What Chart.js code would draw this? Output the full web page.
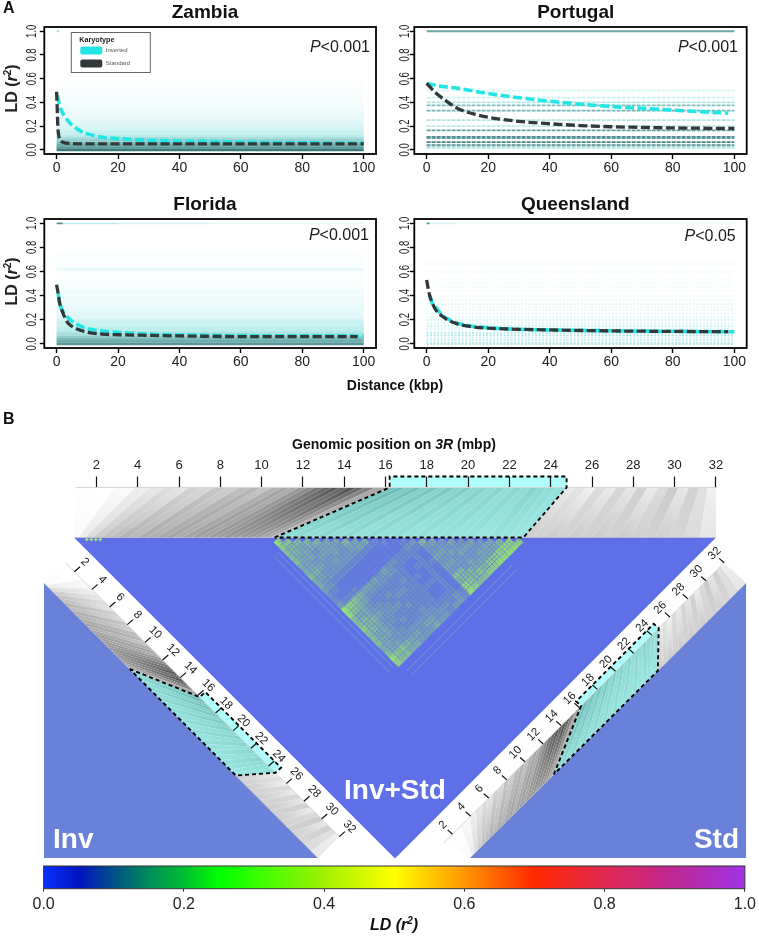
<!DOCTYPE html>
<html>
<head>
<meta charset="utf-8">
<title>LD decay and LD heatmaps on 3R</title>
<script src="https://cdn.jsdelivr.net/npm/chart.js@4/dist/chart.umd.min.js"></script>
<style>
    html, body { margin: 0; padding: 0; background: #fff; }
    #page { position: relative; width: 759px; height: 936px; overflow: hidden; font-family: "Liberation Sans", Arial, sans-serif; }
    canvas { position: absolute; }
    .tag { position: absolute; font-weight: bold; color: #111; white-space: nowrap; }
</style>
</head>
<body>
<div id="page">
    <canvas id="zambiaChart" width="410" height="185" style="left:0;top:0"></canvas>
    <canvas id="portugalChart" width="361" height="185" style="left:395px;top:0"></canvas>
    <canvas id="floridaChart" width="410" height="187" style="left:0;top:192px"></canvas>
    <canvas id="queenslandChart" width="361" height="187" style="left:395px;top:192px"></canvas>
    <canvas id="genomeChart" width="759" height="460" style="left:0;top:400px"></canvas>
    <canvas id="colorbarChart" width="759" height="86" style="left:0;top:850px"></canvas>
    <div class="tag" style="left:3px;top:-1px;font-size:16px">A</div>
    <div class="tag" style="left:3px;top:410px;font-size:16px">B</div>
    <div class="tag" style="left:395px;top:377px;font-size:14px;transform:translateX(-50%)">Distance (kbp)</div>
</div>

<script>
// ============================================
// PANEL A: LD decay per population
// ============================================

const distanceTicks = [0, 20, 40, 60, 80, 100];
const ldTicks = [0, 0.2, 0.4, 0.6, 0.8, 1];
const karyotypes = ['Inverted', 'Standard'];

const zambiaInvX = [0.3, 1, 3, 5, 8, 10, 15, 20, 30, 40, 60, 80, 100];
const zambiaInvY = [0.46, 0.37, 0.27, 0.21, 0.156, 0.135, 0.105, 0.095, 0.08, 0.075, 0.065, 0.06, 0.055];
const zambiaStdX = [0, 0.2, 0.4, 0.7, 1, 2, 4, 10, 40, 100];
const zambiaStdY = [0.49, 0.35, 0.2, 0.12, 0.09, 0.065, 0.055, 0.05, 0.05, 0.05];
const zambiaLevels = [0, 0.02, 0.04, 0.06, 0.08, 0.1, 0.12, 0.14, 0.16, 0.18, 0.2, 0.22, 0.24, 0.26, 0.28, 0.3, 0.32, 0.34, 0.36, 0.38, 0.4, 0.42, 0.44, 0.46, 0.48, 0.5, 0.52, 0.54, 0.56, 0.58, 0.6];
const zambiaDensity = [0.9, 0.72, 0.6, 0.5, 0.4, 0.3, 0.22, 0.18, 0.15, 0.13, 0.115, 0.1, 0.09, 0.08, 0.072, 0.064, 0.056, 0.05, 0.044, 0.038, 0.034, 0.03, 0.026, 0.022, 0.019, 0.016, 0.013, 0.01, 0.008, 0.006, 0.004];
const zambiaTopFrom = [0];
const zambiaTopTo = [0.8];
const zambiaTopDensity = [0.3];

const portugalInvX = [0, 5, 10, 20, 30, 40, 50, 60, 70, 80, 90, 98];
const portugalInvY = [0.56, 0.535, 0.52, 0.475, 0.44, 0.41, 0.385, 0.365, 0.35, 0.335, 0.32, 0.31];
const portugalStdX = [0, 3, 6, 10, 15, 20, 30, 40, 50, 60, 70, 80, 100];
const portugalStdY = [0.56, 0.48, 0.42, 0.35, 0.305, 0.275, 0.24, 0.22, 0.205, 0.195, 0.19, 0.185, 0.18];
const portugalLevels = [0.5, 0.44, 0.4, 0.375, 0.33, 0.25, 0.2, 0.165, 0.11, 0.1, 0.065, 0.04, 0.03, 0.015];
const portugalDensity = [0.12, 0.16, 0.26, 0.48, 0.55, 0.26, 0.22, 0.68, 0.8, 0.7, 0.85, 0.8, 0.36, 0.22];
const portugalTopFrom = [0];
const portugalTopTo = [100];
const portugalTopDensity = [0.62];

const floridaInvX = [0.5, 1, 2, 4, 6, 8, 10, 15, 20, 30, 40, 60, 100];
const floridaInvY = [0.42, 0.34, 0.27, 0.21, 0.17, 0.145, 0.125, 0.105, 0.095, 0.08, 0.075, 0.068, 0.065];
const floridaStdX = [0, 0.5, 1, 2, 3, 4, 6, 8, 10, 15, 20, 30, 40, 60, 98];
const floridaStdY = [0.49, 0.42, 0.34, 0.26, 0.2, 0.165, 0.13, 0.11, 0.095, 0.08, 0.075, 0.07, 0.065, 0.06, 0.06];
const floridaLevels = [0, 0.02, 0.04, 0.06, 0.08, 0.1, 0.12, 0.14, 0.16, 0.18, 0.2, 0.22, 0.24, 0.26, 0.28, 0.3, 0.32, 0.34, 0.36, 0.38, 0.4, 0.42, 0.44, 0.46, 0.48, 0.5, 0.52, 0.54, 0.56, 0.58, 0.6, 0.62, 0.64, 0.66, 0.68, 0.7, 0.72, 0.74, 0.76, 0.78];
const floridaDensity = [0.72, 0.6, 0.52, 0.4, 0.3, 0.25, 0.21, 0.19, 0.17, 0.17, 0.14, 0.09, 0.09, 0.085, 0.085, 0.075, 0.07, 0.06, 0.055, 0.05, 0.045, 0.045, 0.06, 0.035, 0.022, 0.018, 0.018, 0.015, 0.015, 0.015, 0.018, 0.07, 0.015, 0.012, 0.012, 0.015, 0.022, 0.012, 0.008, 0.004];
const floridaTopFrom = [0, 2, 20, 50];
const floridaTopTo = [2, 20, 50, 100];
const floridaTopDensity = [0.75, 0.2, 0.12, 0.07];

const queenslandInvX = [1, 2, 3, 5, 7, 10, 15, 20, 30, 40, 60, 100];
const queenslandInvY = [0.4, 0.33, 0.3, 0.24, 0.205, 0.17, 0.145, 0.133, 0.12, 0.115, 0.108, 0.1];
const queenslandStdX = [0, 0.5, 1, 2, 3, 5, 7, 10, 15, 20, 30, 40, 60, 98];
const queenslandStdY = [0.53, 0.46, 0.4, 0.33, 0.28, 0.23, 0.195, 0.165, 0.14, 0.13, 0.12, 0.115, 0.107, 0.1];
const queenslandLevels = [0, 0.01, 0.03, 0.05, 0.07, 0.09, 0.11, 0.13, 0.15, 0.17, 0.2, 0.22, 0.25, 0.28, 0.31, 0.33, 0.36, 0.4, 0.44, 0.47, 0.5, 0.54, 0.58, 0.6, 0.66, 0.68];
const queenslandDensity = [0.3, 0.2, 0.2, 0.13, 0.26, 0.2, 0.1, 0.1, 0.15, 0.1, 0.12, 0.07, 0.07, 0.06, 0.05, 0.08, 0.05, 0.04, 0.03, 0.04, 0.03, 0.03, 0.02, 0.05, 0.03, 0.03];
const queenslandTopFrom = [0, 1, 10];
const queenslandTopTo = [1, 10, 100];
const queenslandTopDensity = [0.7, 0.12, 0.05];

// ============================================
// PANEL B: genomic tracks and heatmap
// ============================================

const genomeTicks = [2, 4, 6, 8, 10, 12, 14, 16, 18, 20, 22, 24, 26, 28, 30, 32];
const inversionStart = 16.2;
const inversionEnd = 24.77;

// band edges that link a position on 3R (mbp) to a rank along the heatmap side (0-1)
const linkMbp = [1.0, 2.9, 3.9, 4.6, 5.3, 5.9, 6.5, 7.1, 7.7, 8.3, 8.9, 9.5, 10.0, 10.5, 11.0, 11.4, 11.8, 12.2, 12.6, 13.0, 13.4, 13.8, 14.2, 14.6, 15.0, 15.5, 16.2,
    16.6, 17.0, 17.4, 17.8, 18.2, 18.6, 19.0, 19.4, 19.8, 20.2, 20.6, 21.0, 21.4, 21.8, 22.2, 22.6, 23.0, 23.4, 23.8, 24.3, 24.77,
    25.2, 25.7, 26.2, 26.7, 27.2, 27.7, 28.2, 28.7, 29.2, 29.7, 30.2, 30.7, 31.2, 31.6, 32.0];
const linkRank = [0.000, 0.008, 0.018, 0.030, 0.043, 0.056, 0.070, 0.085, 0.100, 0.113, 0.128, 0.143, 0.155, 0.168, 0.182, 0.195, 0.207, 0.219, 0.231, 0.243, 0.255, 0.267, 0.278, 0.289, 0.298, 0.306, 0.3126,
    0.332, 0.351, 0.371, 0.390, 0.410, 0.429, 0.449, 0.468, 0.488, 0.507, 0.527, 0.546, 0.566, 0.585, 0.605, 0.624, 0.644, 0.663, 0.678, 0.690, 0.700,
    0.716, 0.734, 0.752, 0.771, 0.789, 0.808, 0.827, 0.846, 0.866, 0.886, 0.905, 0.926, 0.950, 0.975, 1.0];
// darkness of each band at the 3R side and at the heatmap side
const linkDarkTop = [0.0, 0.02, 0.06, 0.09, 0.13, 0.10, 0.17, 0.15, 0.22, 0.19, 0.25, 0.28, 0.23, 0.30, 0.35, 0.32, 0.40, 0.46, 0.54, 0.60, 0.66, 0.60, 0.68, 0.60, 0.50, 0.34,
    0.45, 0.55, 0.40, 0.50, 0.35, 0.45, 0.30, 0.42, 0.28, 0.36, 0.25, 0.32, 0.24, 0.30, 0.20, 0.28, 0.22, 0.30, 0.24, 0.20, 0.16,
    0.08, 0.11, 0.06, 0.14, 0.08, 0.16, 0.10, 0.18, 0.08, 0.14, 0.20, 0.10, 0.18, 0.12, 0.06];
const linkDarkBase = [0.02, 0.08, 0.14, 0.20, 0.24, 0.26, 0.30, 0.28, 0.33, 0.31, 0.34, 0.36, 0.33, 0.36, 0.38, 0.36, 0.39, 0.38, 0.40, 0.39, 0.38, 0.39, 0.36, 0.34, 0.32, 0.28,
    0.20, 0.22, 0.18, 0.22, 0.16, 0.20, 0.14, 0.18, 0.14, 0.16, 0.12, 0.16, 0.12, 0.14, 0.12, 0.12, 0.10, 0.12, 0.12, 0.10, 0.10,
    0.20, 0.18, 0.20, 0.18, 0.20, 0.18, 0.20, 0.18, 0.20, 0.18, 0.18, 0.18, 0.16, 0.14, 0.10];

// inversion block of the Inv+Std matrix, one digit per cell (0 none, 9 strongest)
const blockStartRank = 0.3107;
const blockEndRank = 0.70;
const blockRows = [
    '76555445443223875565554576',
    '6554445433212764555444465',
    '544434332112654454443465',
    '54343332112543343333354',
    '5443432111432333323344',
    '444332111432233232343',
    '43332111432323222333',
    '5432111332232322343',
    '442111432232223344',
    '42111332322222333',
    '2111322222222233',
    '211221121211232',
    '11221211211223',
    '2322222222233',
    '321121111122',
    '53343436577',
    '4343435566',
    '334333555',
    '43434465',
    '3433456',
    '434466',
    '34467',
    '4477',
    '577',
    '77',
    '6'
];
// thinner SNPs that cross the block with low LD
const blockGapRanks = [0.318, 0.327, 0.334, 0.345, 0.352, 0.361, 0.37, 0.376, 0.385, 0.393, 0.401, 0.41, 0.417, 0.426, 0.433, 0.441, 0.447, 0.458, 0.466, 0.473, 0.482, 0.49, 0.497, 0.506, 0.513, 0.521, 0.53, 0.537, 0.546, 0.553, 0.562, 0.57, 0.577, 0.586, 0.594, 0.601, 0.61, 0.618, 0.625, 0.634, 0.642, 0.649, 0.658, 0.666, 0.673, 0.682, 0.69];
const faintRowRanks = [0.282, 0.295];
const faintColRanks = [0.726, 0.74];
const baseSpeckRanks = [0.02, 0.027, 0.034, 0.041];

// colour key
const keyTicks = [0, 0.2, 0.4, 0.6, 0.8, 1];
const keyStops = [0, 0.05, 0.1, 0.15, 0.2, 0.25, 0.3, 0.4, 0.5, 0.6, 0.7, 0.8, 0.9, 1];
const keyColors = ['#0a30ff', '#0014c0', '#005088', '#008c5a', '#00be32', '#00ff00', '#32ff00', '#a0f000', '#ffff00', '#ff9600', '#ff2800', '#e12850', '#be2896', '#a032e6'];

const FONT = '"Liberation Sans", Arial, sans-serif';
Chart.defaults.font.family = FONT;
Chart.defaults.animation = false;
Chart.defaults.responsive = false;
Chart.defaults.devicePixelRatio = 1;
Chart.defaults.plugins.legend.display = false;
Chart.defaults.plugins.tooltip.enabled = false;

function mixColor(stops, d) {
    for (let i = 1; i < stops.length; i++) {
        if (d <= stops[i][0]) {
            const f = (d - stops[i - 1][0]) / (stops[i][0] - stops[i - 1][0]);
            const a = stops[i - 1][1], b = stops[i][1];
            return `rgb(${a.map((v, k) => Math.round(v + (b[k] - v) * f)).join(',')})`;
        }
    }
    return `rgb(${stops[stops.length - 1][1].join(',')})`;
}

const CLOUD = [[0, [255, 255, 255]], [0.2, [190, 238, 238]], [0.5, [125, 188, 188]], [1, [45, 105, 108]]];

// writes mixed style text: runs are {t, font, rise}
function drawRuns(ctx, x, y, runs, align) {
    let total = 0;
    runs.forEach(r => { ctx.font = r.font; total += ctx.measureText(r.t).width; });
    let cx = align === 'right' ? x - total : align === 'center' ? x - total / 2 : x;
    ctx.textAlign = 'left';
    ctx.textBaseline = 'alphabetic';
    runs.forEach(r => {
        ctx.font = r.font;
        ctx.fillText(r.t, cx, y - (r.rise || 0));
        cx += ctx.measureText(r.t).width;
    });
}

function zipXY(xs, ys) {
    return xs.map((x, i) => ({ x, y: ys[i] }));
}

function bandDatasets(levels, density, width, dash) {
    return levels.map((level, i) => ({
        data: [{ x: 0, y: level }, { x: 100, y: level }],
        showLine: true, pointRadius: 0, borderWidth: width, borderCapStyle: 'butt', borderDash: dash,
        borderColor: mixColor(CLOUD, density[i])
    }));
}

function topLineDatasets(from, to, density, width) {
    return from.map((x, i) => ({
        data: [{ x, y: 1 }, { x: to[i], y: 1 }],
        showLine: true, pointRadius: 0, borderWidth: width, borderCapStyle: 'butt',
        borderColor: mixColor(CLOUD, density[i])
    }));
}

function createLdChart(cfg) {
    const curve = (xs, ys, color, width) => ({
        data: zipXY(xs, ys), showLine: true, pointRadius: 0,
        borderColor: color, borderWidth: width, borderDash: [9, 3.5],
        borderCapStyle: 'butt', cubicInterpolationMode: 'monotone'
    });
    const panelExtras = {
        id: 'panelExtras',
        afterDraw(chart) {
            const { ctx, chartArea: a, scales: { y } } = chart;
            ctx.save();
            ctx.strokeStyle = '#000';
            ctx.lineWidth = 1.8;
            ctx.strokeRect(a.left, a.top, a.right - a.left, a.bottom - a.top);
            ctx.fillStyle = '#111';
            drawRuns(ctx, cfg.titleX, 17.5, [{ t: cfg.title, font: `bold 19px ${FONT}` }], 'center');
            ctx.fillStyle = '#1a1a1a';
            drawRuns(ctx, a.right - cfg.pInsetX, a.top + cfg.pInsetY, [
                { t: 'P', font: `italic 16px ${FONT}` },
                { t: cfg.pText, font: `16px ${FONT}` }
            ], 'right');
            // the y tick labels of the source run along the axis and are squeezed
            ctx.font = `14px ${FONT}`;
            ctx.textAlign = 'center';
            ctx.textBaseline = 'middle';
            ctx.fillStyle = '#222';
            ldTicks.forEach(v => {
                ctx.save();
                ctx.translate(cfg.yLabelX, y.getPixelForValue(v));
                ctx.rotate(-Math.PI / 2);
                ctx.scale(0.68, 1);
                ctx.fillText(v.toFixed(1), 0, 0);
                ctx.restore();
            });
            if (cfg.yTitle) {
                ctx.translate(16.5, (a.top + a.bottom) / 2 - 2);
                ctx.rotate(-Math.PI / 2);
                drawRuns(ctx, 0, 0, [
                    { t: 'LD (', font: `bold 16px ${FONT}` },
                    { t: 'r', font: `italic bold 16px ${FONT}` },
                    { t: '2', font: `bold 10px ${FONT}`, rise: 6 },
                    { t: ')', font: `bold 16px ${FONT}` }
                ], 'center');
            }
            ctx.restore();
            if (cfg.legend) drawKaryotypeLegend(chart);
        }
    };
    return new Chart(document.getElementById(cfg.canvas), {
        type: 'scatter',
        data: {
            datasets: [
                curve(cfg.stdX, cfg.stdY, '#33393a', 3.3),
                curve(cfg.invX, cfg.invY, '#22e6e6', 3.6),
                ...topLineDatasets(cfg.topFrom, cfg.topTo, cfg.topDensity, 1.8),
                ...bandDatasets(cfg.levels, cfg.density, cfg.bandWidth, cfg.bandDash || []).reverse()
            ]
        },
        options: {
            layout: { padding: { right: cfg.rightPad, top: 27 } },
            scales: {
                x: {
                    min: -4, max: 104,
                    afterBuildTicks: axis => { axis.ticks = distanceTicks.map(value => ({ value })); },
                    afterFit: axis => { axis.height = 31; },
                    border: { display: false },
                    grid: { drawOnChartArea: false, tickLength: 5, color: '#000', tickWidth: 1.4 },
                    ticks: { color: '#222', font: { size: 14 }, padding: 1, autoSkip: false, maxRotation: 0 }
                },
                y: {
                    min: -0.035, max: 1.036,
                    afterBuildTicks: axis => { axis.ticks = ldTicks.map(value => ({ value })); },
                    afterFit: axis => { axis.width = cfg.axisWidth; },
                    border: { display: false },
                    grid: { drawOnChartArea: false, tickLength: 4.5, color: '#000', tickWidth: 1.4 },
                    ticks: { display: false }
                }
            }
        },
        plugins: [panelExtras]
    });
}

function drawKaryotypeLegend(chart) {
    const { ctx, chartArea: a } = chart;
    const left = a.left + 27, top = a.top + 5.5;
    ctx.save();
    ctx.fillStyle = '#fff';
    ctx.strokeStyle = '#666';
    ctx.lineWidth = 1;
    ctx.fillRect(left, top, 79, 40);
    ctx.strokeRect(left, top, 79, 40);
    ctx.fillStyle = '#222';
    ctx.font = `bold 7.2px ${FONT}`;
    ctx.textAlign = 'left';
    ctx.textBaseline = 'middle';
    ctx.fillText('Karyotype', left + 8, top + 8);
    const swatch = ['#22e6e6', '#33393a'];
    karyotypes.forEach((name, i) => {
        const y = top + 18 + i * 13;
        ctx.fillStyle = swatch[i];
        ctx.beginPath();
        ctx.roundRect(left + 9, y - 4, 22, 8, 2);
        ctx.fill();
        ctx.fillStyle = '#555';
        ctx.font = `6px ${FONT}`;
        ctx.fillText(name, left + 34.5, y);
    });
    ctx.restore();
}

createLdChart({
    canvas: 'zambiaChart', title: 'Zambia', titleX: 205, pText: '<0.001', pInsetX: 6, pInsetY: 25, yTitle: true, legend: true,
    invX: zambiaInvX, invY: zambiaInvY, stdX: zambiaStdX, stdY: zambiaStdY,
    levels: zambiaLevels, density: zambiaDensity, bandWidth: 2.7,
    topFrom: zambiaTopFrom, topTo: zambiaTopTo, topDensity: zambiaTopDensity,
    axisWidth: 44.3, rightPad: 34, yLabelX: 31.7
});
createLdChart({
    canvas: 'portugalChart', title: 'Portugal', titleX: 180.7, pText: '<0.001', pInsetX: 8.7, pInsetY: 25,
    invX: portugalInvX, invY: portugalInvY, stdX: portugalStdX, stdY: portugalStdY,
    levels: portugalLevels, density: portugalDensity, bandWidth: 1.8, bandDash: [4, 1],
    topFrom: portugalTopFrom, topTo: portugalTopTo, topDensity: portugalTopDensity,
    axisWidth: 19.3, rightPad: 9.3, yLabelX: 9.7
});
createLdChart({
    canvas: 'floridaChart', title: 'Florida', titleX: 205, pText: '<0.001', pInsetX: 7, pInsetY: 21, yTitle: true,
    invX: floridaInvX, invY: floridaInvY, stdX: floridaStdX, stdY: floridaStdY,
    levels: floridaLevels, density: floridaDensity, bandWidth: 2.7,
    topFrom: floridaTopFrom, topTo: floridaTopTo, topDensity: floridaTopDensity,
    axisWidth: 44.3, rightPad: 34, yLabelX: 31.7
});
createLdChart({
    canvas: 'queenslandChart', title: 'Queensland', titleX: 180.3, pText: '<0.05', pInsetX: 11, pInsetY: 22,
    invX: queenslandInvX, invY: queenslandInvY, stdX: queenslandStdX, stdY: queenslandStdY,
    levels: queenslandLevels, density: queenslandDensity, bandWidth: 1.9, bandDash: [2, 1.5],
    topFrom: queenslandTopFrom, topTo: queenslandTopTo, topDensity: queenslandTopDensity,
    axisWidth: 19.3, rightPad: 9.3, yLabelX: 9.7
});

// ============================================
// PANEL B LAYOUT: everything below lives on the x/y scales of genomeChart,
// where one unit of either scale is the same length (1 mbp on the top track)
// ============================================

const RANK_SPAN = 31.09;
// the Std rows sit slightly earlier along their matrix than in the other two
const stdRank = r => r <= 0.7 ? r * 0.972 : 0.68 + (r - 0.7) * (0.32 / 0.3);
const tracks = [
    {   // top track over the Inv+Std matrix
        rug: m => [m, 0], out: [0, -0.53],
        edge: r => [0.915 + RANK_SPAN * r, 2.42]
    },
    {   // Inv, running down to the right
        rug: m => [0.93 + (m - 2) * 0.4276, 4.077 + (m - 2) * 0.4276], out: [0.276, -0.242],
        edge: r => [-0.537 + 13.27 * r, 4.625 + 13.32 * r],
        labelOut: [0.5, -0.47], labelAngle: Math.PI / 4
    },
    {   // Std, running up to the right
        rug: m => [19.25 + (m - 2) * 0.4383, 16.79 - (m - 2) * 0.4383], out: [-0.242, -0.21],
        edge: r => [20.09 + 13.37 * stdRank(r), 17.94 - 13.32 * stdRank(r)],
        labelOut: [-0.46, -0.45], labelAngle: -Math.PI / 4
    }
];

const GENOME_PX = 20.65;
const CENTRAL_BLUE = '#5f6fe8';
const SIDE_BLUE = '#6a81d9';

function cellX(ri, rj) { return 0.915 + RANK_SPAN * (ri + rj) / 2; }
function cellY(ri, rj) { return 2.42 + RANK_SPAN * (rj - ri) / 2; }

function buildHeatCells() {
    const n = blockRows.length;
    const step = (blockEndRank - blockStartRank) / n;
    const cells = [], colors = [];
    const base = [95, 111, 232], top = [150, 225, 115];
    blockRows.forEach((row, i) => {
        [...row].forEach((digit, k) => {
            const j = i + k;
            const ri = blockStartRank + (i + 0.5) * step, rj = blockStartRank + (j + 0.5) * step;
            const f = Math.min(1, Number(digit) / 7.5);
            cells.push({ x: cellX(ri, rj), y: cellY(ri, rj) + RANK_SPAN * step / 2 });
            colors.push(`rgb(${base.map((v, c) => Math.round(v + (top[c] - v) * f)).join(',')})`);
        });
    });
    return { cells, colors, radius: step * RANK_SPAN * GENOME_PX / 2 };
}

function crossLines(ranks) {
    // one stroke per rank, along both diagonals of the block
    const pts = [];
    const gap = { x: NaN, y: NaN };
    ranks.forEach(g => {
        pts.push({ x: cellX(g, g), y: cellY(g, g) + 0.1 }, { x: cellX(g, blockEndRank), y: cellY(g, blockEndRank) }, gap);
        pts.push({ x: cellX(g, g), y: cellY(g, g) + 0.1 }, { x: cellX(blockStartRank, g), y: cellY(blockStartRank, g) }, gap);
    });
    return pts;
}

function faintStrips() {
    const pts = [];
    const gap = { x: NaN, y: NaN };
    faintRowRanks.forEach(g => {
        pts.push({ x: cellX(g, blockStartRank + 0.03), y: cellY(g, blockStartRank + 0.03) }, { x: cellX(g, blockEndRank), y: cellY(g, blockEndRank) }, gap);
    });
    faintColRanks.forEach(g => {
        pts.push({ x: cellX(blockStartRank, g), y: cellY(blockStartRank, g) }, { x: cellX(blockEndRank - 0.06, g), y: cellY(blockEndRank - 0.06, g) }, gap);
    });
    return pts;
}

function rugTicks(track) {
    const pts = [];
    genomeTicks.forEach(m => {
        const [x, y] = track.rug(m);
        pts.push({ x, y }, { x: x + track.out[0], y: y + track.out[1] }, { x: NaN, y: NaN });
    });
    return pts;
}

function dashedBox(track) {
    const add = (p, o) => [p[0] + o[0], p[1] + o[1]];
    const a = track.edge(linkRank[26]), b = track.rug(inversionStart), c = add(b, track.out);
    const e = track.rug(inversionEnd), d = add(e, track.out), f = track.edge(linkRank[47]);
    return [a, b, c, d, e, f, a].map(p => ({ x: p[0], y: p[1] }));
}

function rugLine(track, from, to) {
    const p = track.rug(from), q = track.rug(to);
    return [{ x: p[0], y: p[1] }, { x: q[0], y: q[1] }];
}

function edgeLine(track) {
    const p = track.edge(0), q = track.edge(1);
    return [{ x: p[0], y: p[1] }, { x: q[0], y: q[1] }];
}

const genomeBackground = {
    id: 'genomeBackground',
    beforeDraw(chart) {
        const { ctx, scales: { x, y } } = chart;
        const poly = (pts, fill) => {
            ctx.beginPath();
            pts.forEach((p, i) => {
                const px = x.getPixelForValue(p[0]), py = y.getPixelForValue(p[1]);
                if (i) ctx.lineTo(px, py); else ctx.moveTo(px, py);
            });
            ctx.closePath();
            ctx.fillStyle = fill;
            ctx.fill();
        };
        ctx.save();
        // matrices
        const [top, inv, std] = tracks;
        poly([top.edge(0), top.edge(1), [cellX(0, 1), cellY(0, 1)]], CENTRAL_BLUE);
        poly([inv.edge(0), inv.edge(1), [inv.edge(0)[0], inv.edge(1)[1]]], SIDE_BLUE);
        poly([std.edge(0), std.edge(1), [std.edge(1)[0], std.edge(0)[1]]], SIDE_BLUE);

        tracks.forEach(track => {
            // inversion span on the rug
            const p = track.rug(inversionStart), q = track.rug(inversionEnd);
            poly([p, q, [q[0] + track.out[0], q[1] + track.out[1]], [p[0] + track.out[0], p[1] + track.out[1]]], '#aefcfb');
            // link bands between rug and heatmap
            for (let i = 0; i < linkDarkTop.length; i++) {
                const a = track.rug(linkMbp[i]), b = track.rug(linkMbp[i + 1]);
                const c = track.edge(linkRank[i + 1]), d = track.edge(linkRank[i]);
                const teal = linkMbp[i] >= inversionStart && linkMbp[i + 1] <= inversionEnd;
                const shade = v => teal
                    ? `rgb(${Math.round(165 - 105 * v)},${Math.round(240 - 100 * v)},${Math.round(235 - 95 * v)})`
                    : `rgb(${Array(3).fill(Math.round(255 * (1 - v))).join(',')})`;
                const g = ctx.createLinearGradient(
                    x.getPixelForValue((a[0] + b[0]) / 2), y.getPixelForValue((a[1] + b[1]) / 2),
                    x.getPixelForValue((c[0] + d[0]) / 2), y.getPixelForValue((c[1] + d[1]) / 2)
                );
                g.addColorStop(0, shade(linkDarkTop[i]));
                g.addColorStop(1, shade(linkDarkBase[i]));
                poly([a, b, c, d], g);
            }
        });
        ctx.restore();
    },
    afterDraw(chart) {
        const { ctx, chartArea: a } = chart;
        ctx.save();
        ctx.fillStyle = '#111';
        drawRuns(ctx, 394, 49, [
            { t: 'Genomic position on ', font: `bold 14px ${FONT}` },
            { t: '3R', font: `italic bold 14px ${FONT}` },
            { t: ' (mbp)', font: `bold 14px ${FONT}` }
        ], 'center');
        // tick labels along the two slanted tracks
        ctx.font = `11.5px ${FONT}`;
        ctx.textAlign = 'center';
        ctx.textBaseline = 'middle';
        ctx.fillStyle = '#222';
        tracks.slice(1).forEach(track => {
            genomeTicks.forEach(m => {
                const [mx, my] = track.rug(m);
                const px = chart.scales.x.getPixelForValue(mx + track.labelOut[0]);
                const py = chart.scales.y.getPixelForValue(my + track.labelOut[1]);
                ctx.save();
                ctx.translate(px, py);
                ctx.rotate(track.labelAngle);
                ctx.fillText(String(m), 0, 0);
                ctx.restore();
            });
        });
        // matrix names
        ctx.fillStyle = '#fff';
        drawRuns(ctx, 53, a.bottom - 12, [{ t: 'Inv', font: `bold 28px ${FONT}` }], 'left');
        drawRuns(ctx, 395, a.bottom - 61, [{ t: 'Inv+Std', font: `bold 28px ${FONT}` }], 'center');
        drawRuns(ctx, 739, a.bottom - 12, [{ t: 'Std', font: `bold 28px ${FONT}` }], 'right');
        ctx.restore();
    }
};

const heat = buildHeatCells();
const thinLine = (data, color, width, dash) => ({
    data, showLine: true, pointRadius: 0, borderColor: color, borderWidth: width,
    borderDash: dash || [], clip: false, spanGaps: false
});

new Chart(document.getElementById('genomeChart'), {
    type: 'scatter',
    data: {
        datasets: [
            ...tracks.map(t => thinLine(dashedBox(t), '#000', 1.9, [4, 3])),
            ...tracks.slice(1).map(t => thinLine(rugTicks(t), '#111', 1.2)),
            ...tracks.map(t => thinLine(rugLine(t, 1, 32), '#d6d6d6', 1)),
            ...tracks.map(t => thinLine(edgeLine(t), 'rgba(190,190,190,0.6)', 1)),
            thinLine(crossLines(blockGapRanks), 'rgba(95,111,232,0.45)', 1),
            thinLine(faintStrips(), 'rgba(125,170,190,0.4)', 1.4),
            {
                data: baseSpeckRanks.map(r => ({ x: cellX(r, r), y: cellY(r, r) + 0.1 })),
                pointStyle: 'rectRot', pointRadius: 2, borderWidth: 0,
                pointBackgroundColor: '#9fd88a', clip: false
            },
            {
                data: heat.cells, pointStyle: 'rectRot', pointRadius: heat.radius, pointBorderWidth: 0,
                pointBackgroundColor: heat.colors, clip: false
            }
        ]
    },
    options: {
        layout: { autoPadding: false },
        scales: {
            x: {
                position: 'top', min: 2 - 96.4 / GENOME_PX, max: 2 - 96.4 / GENOME_PX + 759 / GENOME_PX,
                afterBuildTicks: axis => { axis.ticks = genomeTicks.map(value => ({ value })); },
                afterFit: axis => { axis.height = 87.5; },
                border: { display: false },
                grid: { drawOnChartArea: false, tickLength: 11, color: '#111', tickWidth: 1.2 },
                ticks: { color: '#222', font: { size: 13 }, padding: 3, autoSkip: false, maxRotation: 0 }
            },
            y: { display: false, reverse: true, min: 0, max: 372.5 / GENOME_PX }
        }
    },
    plugins: [genomeBackground]
});

// ============================================
// COLOUR KEY
// ============================================

const keyFrame = {
    id: 'keyFrame',
    afterDraw(chart) {
        const { ctx, chartArea: a } = chart;
        ctx.save();
        ctx.strokeStyle = '#333';
        ctx.lineWidth = 1;
        ctx.strokeRect(a.left, a.top, a.right - a.left, a.bottom - a.top);
        ctx.fillStyle = '#111';
        drawRuns(ctx, 394, 80, [
            { t: 'LD (r', font: `italic bold 16px ${FONT}` },
            { t: '2', font: `italic bold 10px ${FONT}`, rise: 6 },
            { t: ')', font: `italic bold 16px ${FONT}` }
        ], 'center');
        ctx.restore();
    }
};

new Chart(document.getElementById('colorbarChart'), {
    type: 'scatter',
    data: {
        datasets: [{
            data: [{ x: 0, y: 0.5 }, { x: 1, y: 0.5 }],
            showLine: true, pointRadius: 0, borderWidth: 23, borderCapStyle: 'butt',
            borderColor(context) {
                const { ctx, chartArea } = context.chart;
                if (!chartArea) return keyColors[0];
                const g = ctx.createLinearGradient(chartArea.left, 0, chartArea.right, 0);
                keyStops.forEach((s, i) => g.addColorStop(s, keyColors[i]));
                return g;
            }
        }]
    },
    options: {
        layout: { padding: { left: 43.6, right: 13.6, top: 16 } },
        scales: {
            x: {
                min: 0, max: 1,
                afterBuildTicks: axis => { axis.ticks = keyTicks.map(value => ({ value })); },
                afterFit: axis => { axis.height = 47.3; },
                border: { display: false },
                grid: { drawOnChartArea: false, tickLength: 3, color: '#333' },
                ticks: { color: '#222', font: { size: 16 }, padding: 3, autoSkip: false, maxRotation: 0, callback: v => Number(v).toFixed(1) }
            },
            y: { display: false, min: 0, max: 1 }
        }
    },
    plugins: [keyFrame]
});
</script>
</body>
</html>
